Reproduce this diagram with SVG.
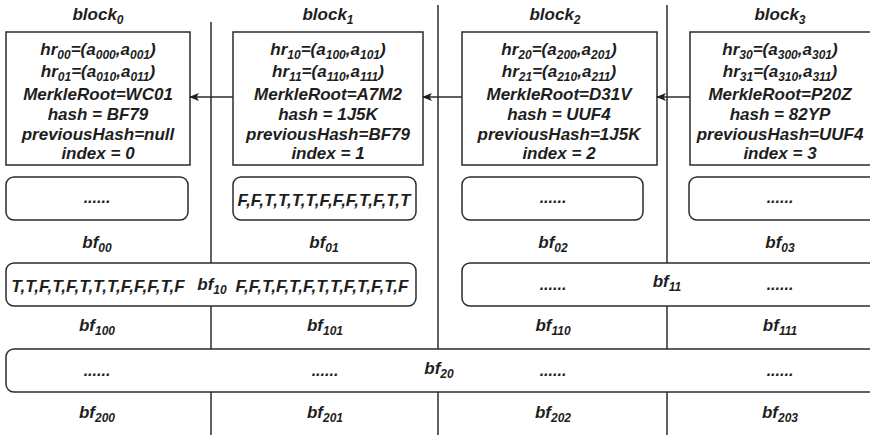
<svg xmlns="http://www.w3.org/2000/svg" width="870" height="436" viewBox="0 0 870 436">
<defs>
<style>
text{font-family:"Liberation Sans",Arial,sans-serif;font-weight:bold;font-style:italic;fill:#1e1e1e;text-anchor:middle}
.t{font-size:17px}
.b{font-size:17px}
.d{font-size:16px}
.s{font-size:12px}
.box{fill:#fff;stroke:#2b2b2b;stroke-width:1.5}
.sep{stroke:#2b2b2b;stroke-width:1.5;fill:none}
.con{stroke:#2b2b2b;stroke-width:1.3;fill:none;marker-end:url(#ah)}
</style>
<marker id="ah" markerWidth="10" markerHeight="8" refX="9" refY="4" orient="auto" markerUnits="userSpaceOnUse">
<path d="M0,0 L10,4 L0,8 L2.5,4 Z" fill="#1e1e1e"/>
</marker>
</defs>
<rect width="870" height="436" fill="#fff"/>

<g id="separators">
<line class="sep" x1="211" y1="22" x2="211" y2="435"/>
<line class="sep" x1="438" y1="5" x2="438" y2="435"/>
<line class="sep" x1="667" y1="5" x2="667" y2="435"/>
</g>

<g id="block0">
<text class="t" x="98" y="20">block<tspan class="s" dy="4">0</tspan></text>
<rect class="box" x="6" y="32" width="184" height="133"/>
<text class="t" x="98" y="55">hr<tspan class="s" dy="4">00</tspan><tspan dy="-4">=(a</tspan><tspan class="s" dy="4">000</tspan><tspan dy="-4">,a</tspan><tspan class="s" dy="4">001</tspan><tspan dy="-4">)</tspan></text>
<text class="t" x="98" y="77">hr<tspan class="s" dy="4">01</tspan><tspan dy="-4">=(a</tspan><tspan class="s" dy="4">010</tspan><tspan dy="-4">,a</tspan><tspan class="s" dy="4">011</tspan><tspan dy="-4">)</tspan></text>
<text class="t" x="98" y="100">MerkleRoot=WC01</text>
<text class="t" x="98" y="120">hash = BF79</text>
<text class="t" x="98" y="140">previousHash=null</text>
<text class="t" x="98" y="159">index = 0</text>
</g>

<g id="block1">
<text class="t" x="328" y="20">block<tspan class="s" dy="4">1</tspan></text>
<rect class="box" x="233" y="32" width="190" height="133"/>
<text class="t" x="328" y="55">hr<tspan class="s" dy="4">10</tspan><tspan dy="-4">=(a</tspan><tspan class="s" dy="4">100</tspan><tspan dy="-4">,a</tspan><tspan class="s" dy="4">101</tspan><tspan dy="-4">)</tspan></text>
<text class="t" x="328" y="77">hr<tspan class="s" dy="4">11</tspan><tspan dy="-4">=(a</tspan><tspan class="s" dy="4">110</tspan><tspan dy="-4">,a</tspan><tspan class="s" dy="4">111</tspan><tspan dy="-4">)</tspan></text>
<text class="t" x="328" y="100">MerkleRoot=A7M2</text>
<text class="t" x="328" y="120">hash = 1J5K</text>
<text class="t" x="328" y="140">previousHash=BF79</text>
<text class="t" x="328" y="159">index = 1</text>
</g>

<g id="block2">
<text class="t" x="555" y="20">block<tspan class="s" dy="4">2</tspan></text>
<rect class="box" x="462" y="32" width="195" height="133"/>
<text class="t" x="559" y="55">hr<tspan class="s" dy="4">20</tspan><tspan dy="-4">=(a</tspan><tspan class="s" dy="4">200</tspan><tspan dy="-4">,a</tspan><tspan class="s" dy="4">201</tspan><tspan dy="-4">)</tspan></text>
<text class="t" x="559" y="77">hr<tspan class="s" dy="4">21</tspan><tspan dy="-4">=(a</tspan><tspan class="s" dy="4">210</tspan><tspan dy="-4">,a</tspan><tspan class="s" dy="4">211</tspan><tspan dy="-4">)</tspan></text>
<text class="t" x="559" y="100">MerkleRoot=D31V</text>
<text class="t" x="559" y="120">hash = UUF4</text>
<text class="t" x="559" y="140">previousHash=1J5K</text>
<text class="t" x="559" y="159">index = 2</text>
</g>

<g id="block3">
<text class="t" x="780" y="20">block<tspan class="s" dy="4">3</tspan></text>
<rect class="box" x="690" y="32" width="185" height="133"/>
<text class="t" x="780" y="55">hr<tspan class="s" dy="4">30</tspan><tspan dy="-4">=(a</tspan><tspan class="s" dy="4">300</tspan><tspan dy="-4">,a</tspan><tspan class="s" dy="4">301</tspan><tspan dy="-4">)</tspan></text>
<text class="t" x="780" y="77">hr<tspan class="s" dy="4">31</tspan><tspan dy="-4">=(a</tspan><tspan class="s" dy="4">310</tspan><tspan dy="-4">,a</tspan><tspan class="s" dy="4">311</tspan><tspan dy="-4">)</tspan></text>
<text class="t" x="780" y="100">MerkleRoot=P20Z</text>
<text class="t" x="780" y="120">hash = 82YP</text>
<text class="t" x="780" y="140">previousHash=UUF4</text>
<text class="t" x="780" y="159">index = 3</text>
</g>

<g id="connectors">
<line class="con" x1="233" y1="97" x2="190" y2="97"/>
<line class="con" x1="462" y1="97" x2="423" y2="97"/>
<line class="con" x1="690" y1="97" x2="657" y2="97"/>
</g>

<g id="bf00">
<rect class="box" x="6" y="177" width="182" height="43" rx="8"/>
<text class="d" x="97" y="203">......</text>
<text class="t" x="97" y="248">bf<tspan class="s" dy="4">00</tspan></text>
</g>
<g id="bf01">
<rect class="box" x="233" y="177" width="183" height="43" rx="8"/>
<text class="b" x="324" y="206">F,F,T,T,T,T,F,F,F,T,F,T,T</text>
<text class="t" x="324" y="248">bf<tspan class="s" dy="4">01</tspan></text>
</g>
<g id="bf02">
<rect class="box" x="462" y="177" width="181" height="43" rx="8"/>
<text class="d" x="553" y="203">......</text>
<text class="t" x="553" y="248">bf<tspan class="s" dy="4">02</tspan></text>
</g>
<g id="bf03">
<rect class="box" x="689" y="177" width="190" height="43" rx="8"/>
<text class="d" x="780" y="203">......</text>
<text class="t" x="780" y="248">bf<tspan class="s" dy="4">03</tspan></text>
</g>

<g id="bf10">
<rect class="box" x="6" y="263" width="410" height="43" rx="8"/>
<text class="b" x="98" y="292">T,T,F,T,F,T,T,T,F,F,F,T,F</text>
<text class="b" x="322" y="292">F,F,T,F,T,F,T,T,F,T,F,T,F</text>
<text class="t" x="212" y="290">bf<tspan class="s" dy="4">10</tspan></text>
<text class="t" x="97" y="331">bf<tspan class="s" dy="4">100</tspan></text>
<text class="t" x="325" y="331">bf<tspan class="s" dy="4">101</tspan></text>
</g>

<g id="bf11">
<rect class="box" x="462" y="263" width="420" height="43" rx="8"/>
<text class="d" x="553" y="290">......</text>
<text class="d" x="780" y="290">......</text>
<text class="t" x="667" y="287">bf<tspan class="s" dy="4">11</tspan></text>
<text class="t" x="553" y="331">bf<tspan class="s" dy="4">110</tspan></text>
<text class="t" x="780" y="331">bf<tspan class="s" dy="4">111</tspan></text>
</g>

<g id="bf20">
<rect class="box" x="6" y="349" width="876" height="43" rx="8"/>
<text class="d" x="97" y="376">......</text>
<text class="d" x="325" y="376">......</text>
<text class="d" x="553" y="376">......</text>
<text class="d" x="780" y="376">......</text>
<text class="t" x="439" y="374">bf<tspan class="s" dy="4">20</tspan></text>
<text class="t" x="97" y="418">bf<tspan class="s" dy="4">200</tspan></text>
<text class="t" x="325" y="418">bf<tspan class="s" dy="4">201</tspan></text>
<text class="t" x="553" y="418">bf<tspan class="s" dy="4">202</tspan></text>
<text class="t" x="780" y="418">bf<tspan class="s" dy="4">203</tspan></text>
</g>
</svg>
